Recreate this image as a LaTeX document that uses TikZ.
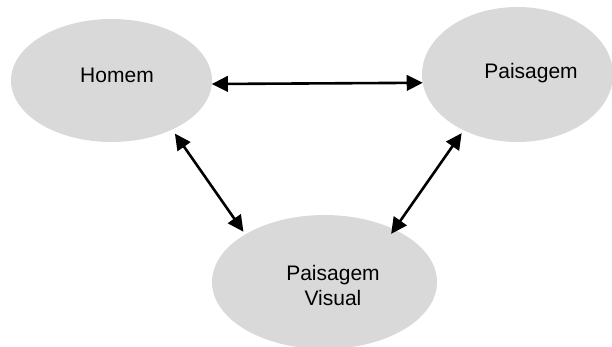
\documentclass[tikz,border=0pt]{standalone}
\usepackage{fontspec}
\setmainfont{Liberation Sans}
\usetikzlibrary{shapes.geometric,arrows.meta}
\definecolor{bubblegray}{HTML}{D9D9D9}
\tikzset{
  bubble/.style={ellipse, fill=bubblegray, draw=none, inner sep=0pt, outer sep=0pt},
  caption/.style={font=\fontsize{21}{25.7}\selectfont, inner sep=0pt, outer sep=0pt, align=center},
  link/.style={line width=2.6pt,
    {Triangle[length=16pt,width=15.5pt]}-{Triangle[length=16pt,width=15.5pt]}}
}
\begin{document}
\begin{tikzpicture}[x=1pt,y=-1pt]
  \useasboundingbox (0,0) rectangle (612,346);
  % the three concepts
  \node[bubble, minimum width=201pt, minimum height=123pt] (homem) at (111.5,80.5) {};
  \node[bubble, minimum width=191pt, minimum height=135pt] (paisagem) at (517.5,74.5) {};
  \node[bubble, minimum width=225pt, minimum height=134pt] (visual) at (324.5,282) {};
  % their labels (base of a two-line caption is its last line)
  \node[caption, anchor=base] (homemtxt) at (117,82.5) {Homem};
  \node[caption, anchor=base] (paisagemtxt) at (531,78.3) {Paisagem};
  \node[caption, anchor=base] (visualtxt) at (333,305.7) {Paisagem\\Visual};
  % two-way relations
  \draw[link] (homem.-2) -- (paisagem.185.7);
  \draw[link, shorten <=4.9pt, shorten >=3.3pt] (homem.-39.7) -- (visual.149.3);
  \draw[link, shorten <=3.5pt, shorten >=-5.4pt] (paisagem.226.3) -- (visual.37.7);
\end{tikzpicture}
\end{document}
